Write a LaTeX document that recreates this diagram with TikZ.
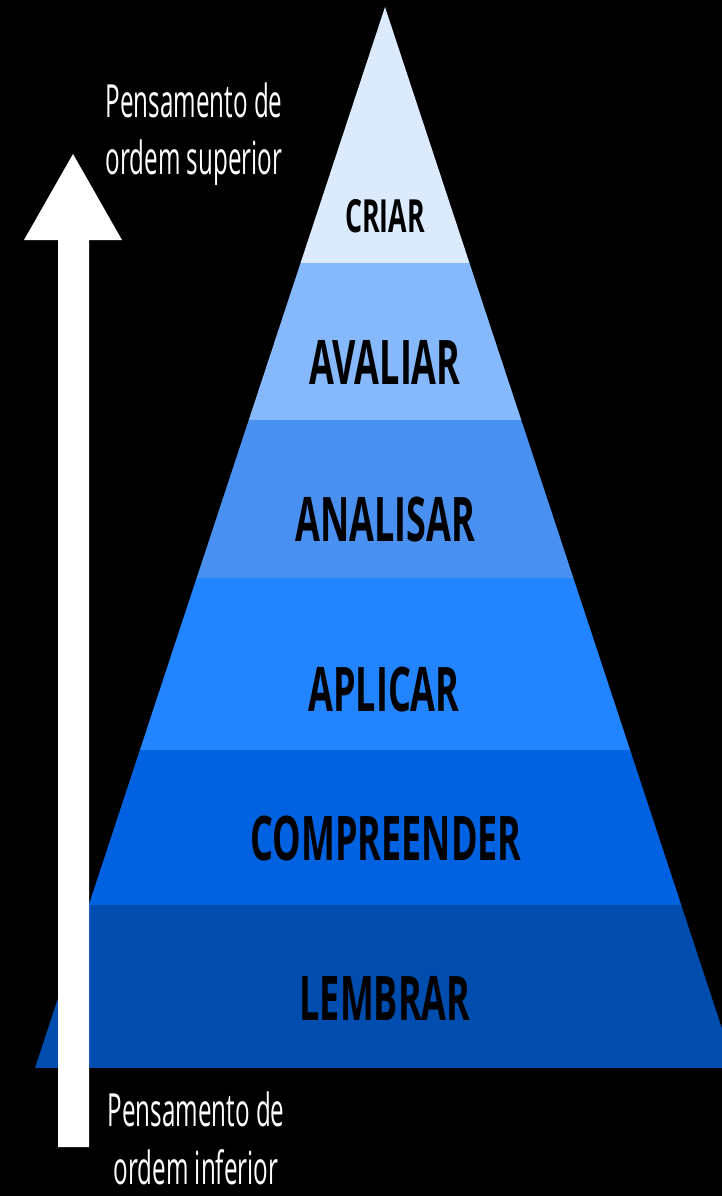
\documentclass[tikz,border=0pt]{standalone}
\usepackage{fontspec}
\setmainfont{Open Sans}
\usepackage{tikz}

\definecolor{criarcol}{HTML}{DCEAFE}
\definecolor{avaliarcol}{HTML}{85B9FB}
\definecolor{analisarcol}{HTML}{4A90F0}
\definecolor{aplicarcol}{HTML}{2384FF}
\definecolor{compreendercol}{HTML}{0062E0}
\definecolor{lembrarcol}{HTML}{004DB0}

\begin{document}
\begin{tikzpicture}[x=0.02cm,y=-0.02cm]
  \tikzstyle{level}=[font=\fontsize{35}{35}\selectfont\bfseries, xscale=0.585, inner sep=0pt]
  \tikzstyle{side}=[font=\fontsize{26}{32.5}\selectfont, xscale=0.53, text=white, align=center, inner sep=0pt]

  \fill[black] (0,0) rectangle (722,1196);
  \useasboundingbox (0,0) rectangle (722,1196);
  \clip (0,0) rectangle (722,1196);

  \coordinate (apex) at (385,7);
  \coordinate (bl) at (35,1068);
  \coordinate (br) at (735,1068);

  % pyramid bands
  \begin{scope}
    \clip (apex) -- (bl) -- (br) -- cycle;
    \fill[criarcol]       (0,0)   rectangle (740,263);
    \fill[avaliarcol]     (0,263) rectangle (740,420);
    \fill[analisarcol]    (0,420) rectangle (740,578);
    \fill[aplicarcol]     (0,578) rectangle (740,750);
    \fill[compreendercol] (0,750) rectangle (740,905);
    \fill[lembrarcol]     (0,905) rectangle (740,1068);
  \end{scope}

  \node[level, font=\fontsize{26}{26}\selectfont\bfseries] (criar) at (385,216) {CRIAR};
  \node[level] (avaliar)     at (385,362) {AVALIAR};
  \node[level] (analisar)    at (385,520) {ANALISAR};
  \node[level] (aplicar)     at (384,690) {APLICAR};
  \node[level] (compreender) at (386,838) {COMPREENDER};
  \node[level] (lembrar)     at (385,998) {LEMBRAR};

  % arrow
  \coordinate (tip) at (73,154);
  \fill[white] (58,1147) -- (58,240) -- (24,240) -- (tip) -- (122,240) -- (89,240) -- (89,1147) -- cycle;

  \node[side, anchor=base] (superior) at (194,175) {Pensamento de\\ordem superior};
  \node[side, anchor=base] (inferior) at (196,1184) {Pensamento de\\ordem inferior};
\end{tikzpicture}
\end{document}
